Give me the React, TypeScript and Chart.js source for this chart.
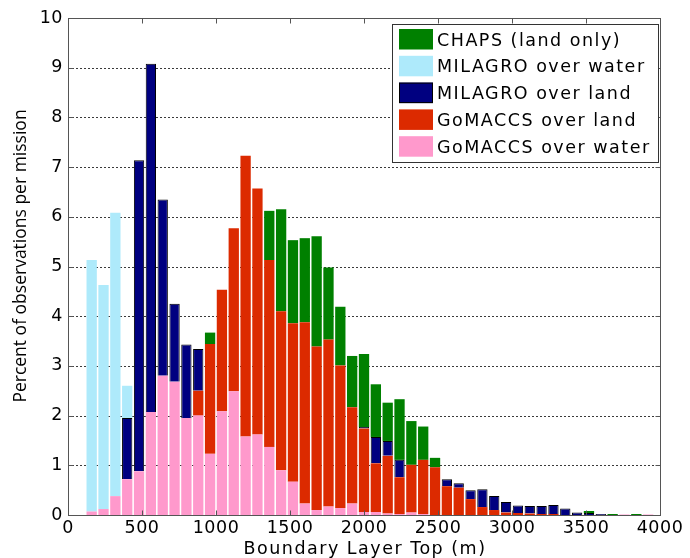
import React, { useEffect, useRef } from 'react';
import { Chart, registerables } from 'chart.js';

Chart.register(...registerables);

// Bin centres (m)
const binCenters = [
  160, 240, 320, 400, 480, 560, 640, 720, 800, 880, 960, 1040, 1120, 1200, 1280, 1360,
  1440, 1520, 1600, 1680, 1760, 1840, 1920, 2000, 2080, 2160, 2240, 2320, 2400, 2480, 2560, 2640,
  2720, 2800, 2880, 2960, 3040, 3120, 3200, 3280, 3360, 3440, 3520, 3600, 3680, 3760, 3840, 3920,
];

// Stacked segment values (percent of observations per mission)
const gomaccsWater = [
  0.07, 0.12, 0.38, 0.72, 0.88, 2.07, 2.8, 2.68, 1.95, 2.0, 1.23, 2.09, 2.49, 1.58, 1.62, 1.37,
  0.9, 0.67, 0.23, 0.1, 0.17, 0.14, 0.23, 0.06, 0.06, 0.03, 0.02, 0.05, 0.02, 0, 0, 0,
  0, 0, 0, 0, 0, 0, 0, 0, 0, 0, 0, 0, 0, 0.01, 0, 0.01,
];
const gomaccsLand = [
  0, 0, 0, 0, 0, 0, 0, 0, 0, 0.5, 2.21, 2.44, 3.28, 5.65, 4.95, 3.76,
  3.2, 3.19, 3.65, 3.29, 3.36, 2.87, 1.94, 1.68, 0.98, 1.16, 0.74, 0.96, 1.09, 0.96, 0.58, 0.55,
  0.32, 0.16, 0.1, 0.05, 0.04, 0.03, 0.02, 0.02, 0, 0, 0, 0, 0, 0, 0, 0,
];
const milagroLand = [
  0, 0, 0, 1.23, 6.26, 7.01, 3.55, 1.57, 1.48, 0.84, 0, 0, 0, 0, 0, 0,
  0, 0, 0, 0, 0, 0, 0, 0.03, 0.53, 0.3, 0.35, 0, 0, 0, 0.14, 0.09,
  0.18, 0.36, 0.28, 0.21, 0.15, 0.15, 0.16, 0.18, 0.13, 0.05, 0.04, 0.02, 0, 0, 0, 0,
];
const milagroWater = [
  5.06, 4.51, 5.7, 0.65, 0, 0, 0, 0, 0, 0, 0, 0, 0, 0, 0, 0,
  0, 0, 0, 0, 0, 0, 0, 0, 0, 0, 0, 0, 0, 0, 0, 0,
  0, 0, 0, 0, 0, 0, 0, 0, 0, 0, 0, 0, 0, 0, 0, 0,
];
const chaps = [
  0, 0, 0, 0, 0, 0, 0, 0, 0, 0, 0.23, 0, 0, 0, 0, 0.99,
  2.05, 1.67, 1.69, 2.22, 1.45, 1.18, 1.03, 1.47, 1.06, 0.77, 1.22, 0.88, 0.67, 0.19, 0, 0,
  0, 0, 0, 0, 0, 0, 0, 0, 0, 0, 0.04, 0, 0.02, 0, 0.02, 0,
];

const xTicks = [0, 500, 1000, 1500, 2000, 2500, 3000, 3500, 4000];
const yTicks = [0, 1, 2, 3, 4, 5, 6, 7, 8, 9, 10];

const legendLabels = [
  'CHAPS (land only)',
  'MILAGRO over water',
  'MILAGRO over land',
  'GoMACCS over land',
  'GoMACCS over water',
];
const legendColors = ['#008000', '#aeeafb', '#000080', '#dc2a00', '#ff99cc'];

const xTitle = 'Boundary Layer Top (m)';
const yTitle = 'Percent of observations per mission';

const toPts = (arr: number[]) =>
  binCenters.map((x, i) => ({ x, y: arr[i] ? arr[i] : null }));

const decorPlugin = {
  id: 'decor',
  beforeDraw(chart: any) {
    chart.ctx.letterSpacing = '0.5px';
  },
  beforeDatasetsDraw(chart: any) {
    const { ctx, chartArea } = chart;
    const y = chart.scales.y;
    ctx.save();
    ctx.strokeStyle = '#3a3a3a';
    ctx.lineWidth = 1;
    ctx.setLineDash([2, 2]);
    for (const v of yTicks) {
      if (v === 0 || v === 10) continue;
      const py = Math.round(y.getPixelForValue(v)) + 0.5;
      ctx.beginPath();
      ctx.moveTo(chartArea.left, py);
      ctx.lineTo(chartArea.right, py);
      ctx.stroke();
    }
    ctx.restore();
  },
  afterDatasetsDraw(chart: any) {
    const { ctx, chartArea } = chart;
    const x = chart.scales.x;
    const y = chart.scales.y;
    const L = Math.round(chartArea.left) + 0.5;
    const R = Math.round(chartArea.right) + 0.5;
    const T = Math.round(chartArea.top) + 0.5;
    const B = Math.round(chartArea.bottom) + 0.5;
    ctx.save();
    ctx.setLineDash([]);
    ctx.strokeStyle = '#555';
    ctx.lineWidth = 1;
    ctx.strokeRect(L, T, R - L, B - T);
    ctx.beginPath();
    for (const v of xTicks) {
      const px = Math.round(x.getPixelForValue(v)) + 0.5;
      ctx.moveTo(px, B);
      ctx.lineTo(px, B - 5);
      ctx.moveTo(px, T);
      ctx.lineTo(px, T + 5);
    }
    for (const v of yTicks) {
      const py = Math.round(y.getPixelForValue(v)) + 0.5;
      ctx.moveTo(L, py);
      ctx.lineTo(L + 5, py);
      ctx.moveTo(R, py);
      ctx.lineTo(R - 5, py);
    }
    ctx.stroke();
    ctx.restore();
  },
  afterDraw(chart: any) {
    const { ctx, chartArea } = chart;
    ctx.save();
    // Legend
    const bx = 392.5, by = 24.5, bw = 266, bh = 138;
    ctx.letterSpacing = '1.5px';
    ctx.fillStyle = '#fff';
    ctx.fillRect(bx, by, bw, bh);
    ctx.strokeStyle = '#333';
    ctx.lineWidth = 1;
    ctx.strokeRect(bx, by, bw, bh);
    ctx.font = '17.5px "DejaVu Sans"';
    ctx.textAlign = 'left';
    ctx.textBaseline = 'alphabetic';
    legendLabels.forEach((lab, i) => {
      const top = 29 + i * 26.8;
      ctx.fillStyle = legendColors[i];
      ctx.fillRect(399, top, 34, 20.5);
      if (i === 2) {
        ctx.strokeStyle = '#000';
        ctx.strokeRect(399.5, top + 0.5, 33, 19.5);
      }
      ctx.fillStyle = '#000';
      ctx.fillText(lab, 437, top + 10.25 + 6.4);
    });
    // X title
    ctx.textAlign = 'center';
    ctx.fillText(xTitle, (chartArea.left + chartArea.right) / 2 + 1, 553.5);
    // Y title
    ctx.letterSpacing = '0px';
    ctx.font = '17.5px "Open Sans"';
    ctx.translate(21, 256);
    ctx.rotate(-Math.PI / 2);
    ctx.textBaseline = 'middle';
    ctx.fillText(yTitle, 0, 0);
    ctx.restore();
  },
};

export default function App() {
  const ref = useRef<HTMLCanvasElement | null>(null);

  useEffect(() => {
    if (!ref.current) return;
    const common = { categoryPercentage: 1, barPercentage: 0.87, borderWidth: 0 };
    const chart = new Chart(ref.current, {
      type: 'bar',
      data: {
        datasets: [
          { label: 'GoMACCS over water', data: toPts(gomaccsWater), backgroundColor: '#ff99cc', ...common },
          { label: 'GoMACCS over land', data: toPts(gomaccsLand), backgroundColor: '#dc2a00', ...common },
          {
            label: 'MILAGRO over land',
            data: toPts(milagroLand),
            backgroundColor: '#000080',
            ...common,
            borderWidth: 1,
            borderColor: '#000',
          },
          { label: 'MILAGRO over water', data: toPts(milagroWater), backgroundColor: '#aeeafb', ...common },
          { label: 'CHAPS (land only)', data: toPts(chaps), backgroundColor: '#008000', ...common },
        ] as any,
      },
      options: {
        animation: false,
        responsive: false,
        maintainAspectRatio: false,
        layout: { padding: { top: 18, right: 30, left: 0, bottom: 0 } },
        plugins: { legend: { display: false }, tooltip: { enabled: false } },
        scales: {
          x: {
            type: 'linear',
            min: 0,
            max: 4000,
            stacked: true,
            offset: false,
            grid: { display: false, drawTicks: false, offset: false },
            border: { display: false },
            ticks: {
              stepSize: 500,
              autoSkip: false,
              maxRotation: 0,
              padding: 3,
              color: '#000',
              font: { family: 'DejaVu Sans', size: 17.5 },
              callback: (v: any) => String(v),
            },
            afterFit: (s: any) => {
              s.height = 43;
            },
          },
          y: {
            min: 0,
            max: 10,
            stacked: true,
            grid: { display: false, drawTicks: false },
            border: { display: false },
            ticks: {
              stepSize: 1,
              padding: 5,
              color: '#000',
              font: { family: 'DejaVu Sans', size: 17.5 },
              callback: (v: any) => String(v),
            },
            afterFit: (s: any) => {
              s.width = 68;
            },
          },
        },
      } as any,
      plugins: [decorPlugin],
    });
    return () => chart.destroy();
  }, []);

  return (
    <div style={{ position: 'absolute', left: 0, top: 0, width: 690, height: 558, background: '#fff' }}>
      <canvas ref={ref} width={690} height={558} style={{ width: 690, height: 558, display: 'block' }} />
    </div>
  );
}
